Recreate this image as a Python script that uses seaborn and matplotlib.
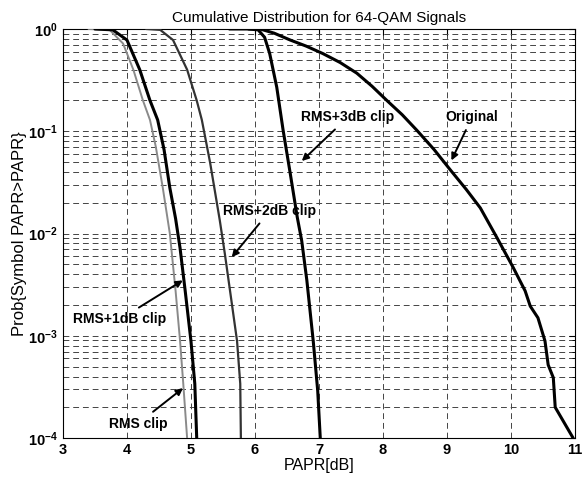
import seaborn as sns
import pandas as pd
import numpy as np
import matplotlib
matplotlib.use("Agg")
import matplotlib.pyplot as plt
from matplotlib.ticker import LogLocator, FixedLocator

# PAPR [dB] and Prob{Symbol PAPR > PAPR}
rms_x = [3.4, 3.73, 3.94, 4.1, 4.25, 4.36, 4.45, 4.56, 4.67, 4.76, 4.83, 4.88, 4.94]
rms_y = [1.0, 0.98, 0.72, 0.40, 0.20, 0.129, 0.071, 0.028, 0.01, 0.00275, 0.00089, 0.00034, 0.0001]

rms1_x = [3.5, 3.78, 4.0, 4.2, 4.36, 4.48, 4.58, 4.67, 4.76, 4.83, 4.91, 5.0, 5.06, 5.09]
rms1_y = [1.0, 0.98, 0.78, 0.40, 0.20, 0.129, 0.066, 0.028, 0.014, 0.0072, 0.00275, 0.00089, 0.00034, 0.0001]

rms2_x = [4.3, 4.52, 4.72, 4.94, 5.09, 5.17, 5.30, 5.45, 5.53, 5.62, 5.72, 5.77, 5.78]
rms2_y = [1.0, 0.98, 0.78, 0.40, 0.20, 0.129, 0.049, 0.0135, 0.0063, 0.0025, 0.00089, 0.00034, 0.0001]

rms3_x = [5.9, 6.05, 6.15, 6.23, 6.34, 6.44, 6.55, 6.66, 6.73, 6.81, 6.91, 6.98, 7.02]
rms3_y = [1.0, 0.98, 0.83, 0.575, 0.27, 0.102, 0.039, 0.0145, 0.0085, 0.0035, 0.00089, 0.00029, 0.0001]

orig_x = [5.6, 6.08, 6.3, 6.55, 6.8, 7.06, 7.33, 7.59, 7.83, 8.06, 8.3, 8.53, 8.8, 9.05, 9.3,
          9.52, 9.78, 10.03, 10.22, 10.3, 10.42, 10.53, 10.58, 10.66, 10.69, 10.97]
orig_y = [1.0, 1.0, 0.91, 0.78, 0.68, 0.575, 0.47, 0.37, 0.275, 0.20, 0.145, 0.102, 0.066, 0.042, 0.027,
          0.0178, 0.0091, 0.0047, 0.00275, 0.00195, 0.0015, 0.00089, 0.00052, 0.00039, 0.0002, 0.0001]

x_ticks = [3, 4, 5, 6, 7, 8, 9, 10, 11]

sns.set_style("white")
plt.rcParams["font.family"] = ["Liberation Sans", "DejaVu Sans"]
plt.rcParams.update({"text.color": "black", "axes.labelcolor": "black",
                     "xtick.color": "black", "ytick.color": "black"})

fig = plt.figure(figsize=(5.88, 4.83), dpi=100)
ax = fig.add_axes([0.107, 0.093, 0.871, 0.847])

curves = [
    (rms_x, rms_y, "#8a8a8a", 1.4),
    (rms1_x, rms1_y, "black", 2.2),
    (rms2_x, rms2_y, "#333333", 1.6),
    (rms3_x, rms3_y, "black", 2.2),
    (orig_x, orig_y, "black", 2.2),
]
for xs, ys, c, lw in curves:
    df = pd.DataFrame({"papr": xs, "prob": ys})
    sns.lineplot(data=df, x="papr", y="prob", color=c, lw=lw, ax=ax,
                 sort=False, estimator=None, zorder=3)

ax.set_yscale("log")
ax.set_xlim(3, 11)
ax.set_ylim(1e-4, 1)
ax.xaxis.set_major_locator(FixedLocator(x_ticks))
ax.yaxis.set_major_locator(LogLocator(base=10, numticks=10))
ax.yaxis.set_minor_locator(LogLocator(base=10, subs=np.arange(2, 10), numticks=10))

grid_kw = dict(color="#444444", lw=0.7, linestyle=(0, (6, 4)))
ax.grid(True, which="major", axis="both", **grid_kw)
ax.grid(True, which="minor", axis="y", **grid_kw)

ax.tick_params(which="both", direction="in", top=True, right=True, labelsize=10.5)
ax.tick_params(which="major", length=4)
ax.tick_params(which="minor", length=2)
for lab in ax.get_xticklabels() + ax.get_yticklabels():
    lab.set_fontweight("bold")
for sp in ax.spines.values():
    sp.set_color("black")
    sp.set_linewidth(0.8)

ax.set_title("Cumulative Distribution for 64-QAM Signals", fontsize=11, pad=5)
ax.set_xlabel("PAPR[dB]", fontsize=11.5, labelpad=1)
ax.set_ylabel("Prob{Symbol PAPR>PAPR}", fontsize=12, labelpad=1)

arrow = dict(arrowstyle="-|>", color="black", lw=1.4, mutation_scale=10)
txt = dict(fontsize=10, fontweight="bold", ha="center", va="center")
ax.annotate("RMS+3dB clip", xy=(6.7, 0.049), xytext=(7.45, 0.137), arrowprops=arrow, **txt)
ax.annotate("Original", xy=(9.05, 0.049), xytext=(9.39, 0.137), arrowprops=arrow, **txt)
ax.annotate("RMS+2dB clip", xy=(5.61, 0.0056), xytext=(6.23, 0.0166), arrowprops=arrow, **txt)
ax.annotate("RMS+1dB clip", xy=(4.91, 0.0036), xytext=(3.89, 0.00145), arrowprops=arrow, **txt)
ax.annotate("RMS clip", xy=(4.91, 0.00032), xytext=(4.17, 0.000138), arrowprops=arrow, **txt)

fig.savefig("out.png", dpi=100)
